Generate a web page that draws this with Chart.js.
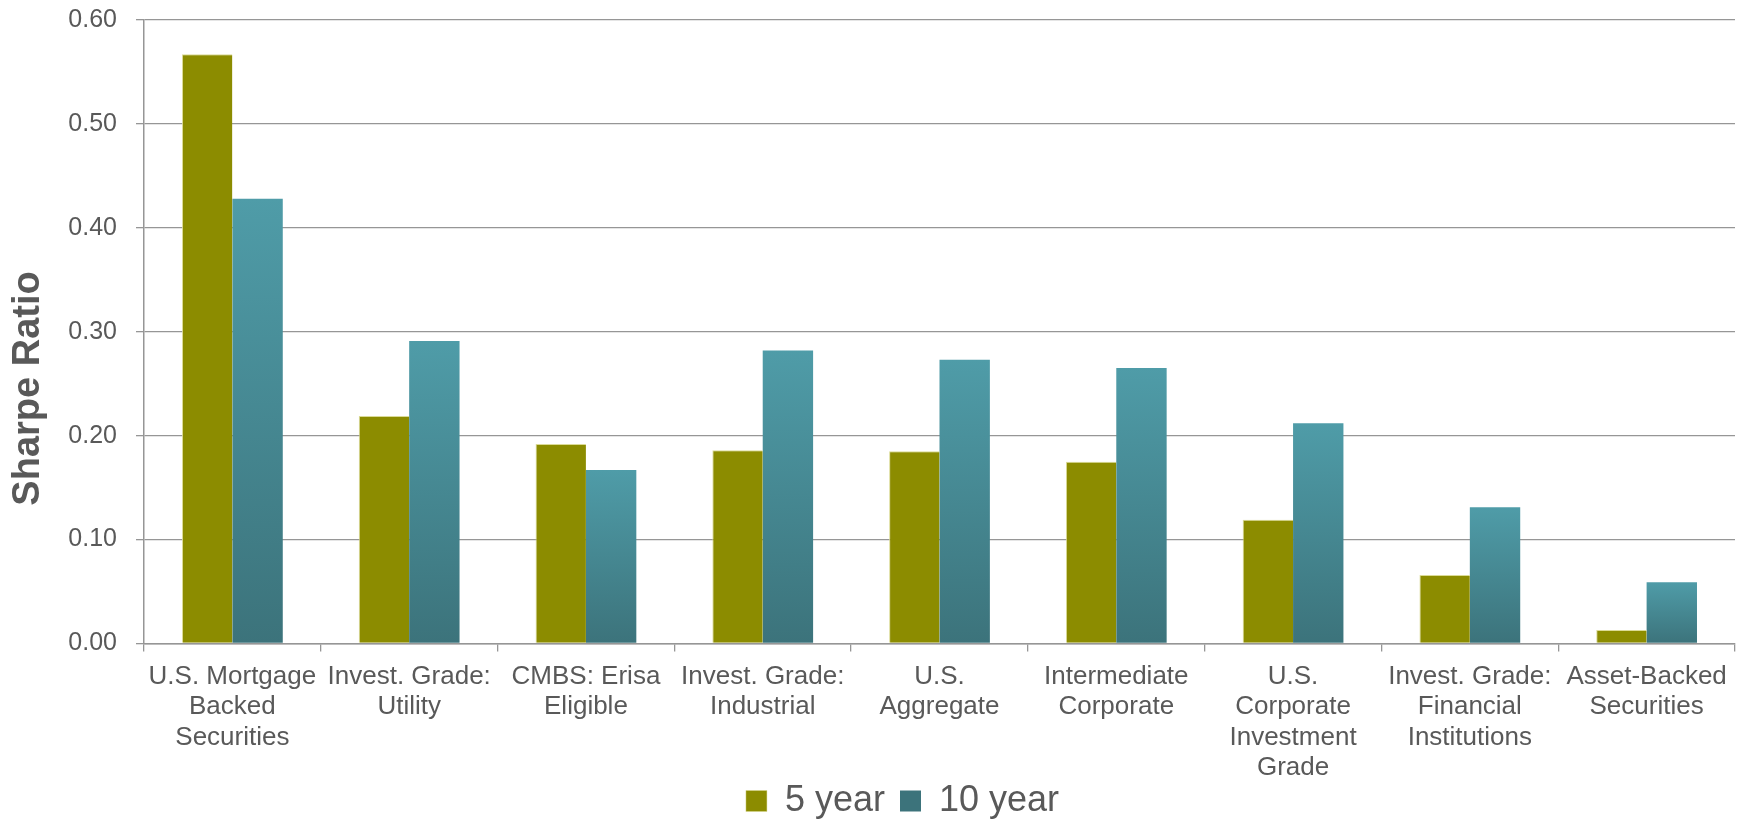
<!DOCTYPE html>
<html lang="en">
<head>
  <meta charset="UTF-8" />
  <title>Sharpe Ratio by Sector</title>
  <script src="https://cdn.jsdelivr.net/npm/chart.js@4"></script>
  <style>
    body { margin: 0; background: #fff; }
    .chart-box { width: 1740px; height: 821px; position: relative; }
  </style>
</head>
<body>
  <div class="chart-box">
    <canvas id="sharpeChart"></canvas>
  </div>

  <script>
    const categories = [
      ['U.S. Mortgage', 'Backed', 'Securities'],
      ['Invest. Grade:', 'Utility'],
      ['CMBS: Erisa', 'Eligible'],
      ['Invest. Grade:', 'Industrial'],
      ['U.S.', 'Aggregate'],
      ['Intermediate', 'Corporate'],
      ['U.S.', 'Corporate', 'Investment', 'Grade'],
      ['Invest. Grade:', 'Financial', 'Institutions'],
      ['Asset-Backed', 'Securities']
    ];
    const fiveYear = [0.567, 0.219, 0.192, 0.186, 0.185, 0.175, 0.119, 0.066, 0.013];
    const tenYear = [0.428, 0.291, 0.167, 0.282, 0.273, 0.265, 0.212, 0.131, 0.059];
    const yTicks = [0, 0.1, 0.2, 0.3, 0.4, 0.5, 0.6];
    const yTitle = 'Sharpe Ratio';

    const textColor = '#595959';
    const gridColor = '#969696';
    const fontFamily = "'Liberation Sans', Arial, sans-serif";

    // teal bars fade from light at the top to dark at the baseline
    function tealFill(ctx) {
      const chart = ctx.chart;
      if (ctx.type !== 'data' || !chart.chartArea) return '#468a94';
      const y = chart.scales.y;
      const top = y.getPixelForValue(ctx.raw);
      const base = y.getPixelForValue(0);
      const g = chart.ctx.createLinearGradient(0, top, 0, base);
      g.addColorStop(0, '#4f9ca8');
      g.addColorStop(1, '#3c737b');
      return g;
    }

    // rotated axis title, sitting a little below the middle of the plot
    const axisTitle = {
      id: 'axisTitle',
      afterDraw(chart) {
        const { ctx, chartArea } = chart;
        const cy = chartArea.top + (chartArea.bottom - chartArea.top) * 0.591;
        ctx.save();
        ctx.translate(29, cy);
        ctx.rotate(-Math.PI / 2);
        ctx.font = "bold 38px " + fontFamily;
        ctx.fillStyle = textColor;
        ctx.textAlign = 'center';
        ctx.textBaseline = 'middle';
        ctx.fillText(yTitle, 0, 0);
        ctx.restore();
      }
    };

    // the legend overlaps the bottom of the tall category labels a bit
    // and sits right of centre, so widen/move its box after layout
    const legendNudge = {
      id: 'legendNudge',
      afterLayout(chart) {
        const lg = chart.legend;
        if (!lg) return;
        lg.top -= 15.5;
        lg.bottom = chart.height;
        lg.height = lg.bottom - lg.top;
        lg.left += 35;
        lg.right += 35;
      }
    };

    new Chart(document.getElementById('sharpeChart').getContext('2d'), {
      type: 'bar',
      data: {
        labels: categories,
        datasets: [{
          label: '5 year',
          data: fiveYear,
          backgroundColor: '#8c8c00',
          borderColor: 'rgba(215,215,140,0.9)',
          borderWidth: { top: 1, left: 1, right: 0, bottom: 0 },
          categoryPercentage: 0.57,
          barPercentage: 1
        }, {
          label: '10 year',
          data: tenYear,
          backgroundColor: tealFill,
          categoryPercentage: 0.57,
          barPercentage: 1
        }]
      },
      options: {
        responsive: true,
        maintainAspectRatio: false,
        animation: false,
        layout: { padding: { top: 20, right: 5, left: 0, bottom: 0 } },
        scales: {
          x: {
            afterFit: (scale) => { scale.height = 140; },
            grid: {
              offset: true,
              drawOnChartArea: false,
              drawTicks: true,
              tickLength: 8,
              color: gridColor,
              lineWidth: 1.3
            },
            border: { color: gridColor, width: 1.5 },
            ticks: {
              autoSkip: false,
              maxRotation: 0,
              padding: 10,
              color: textColor,
              font: { family: fontFamily, size: 26, lineHeight: 1.17 }
            }
          },
          y: {
            min: 0,
            max: 0.6,
            afterBuildTicks: (scale) => {
              scale.ticks = yTicks.map(v => ({ value: v }));
            },
            afterFit: (scale) => {
              scale.width = 144;
              scale.paddingTop = 0;
              scale.paddingBottom = 0;
            },
            grid: {
              color: gridColor,
              lineWidth: 1.3,
              tickLength: 8
            },
            border: { color: gridColor, width: 1.5 },
            ticks: {
              padding: 19,
              color: textColor,
              font: { family: fontFamily, size: 25 },
              callback: (v) => v.toFixed(2)
            }
          }
        },
        plugins: {
          legend: {
            position: 'bottom',
            maxHeight: 37.5,
            labels: {
              boxWidth: 21,
              boxHeight: 21,
              padding: 15,
              color: textColor,
              font: { family: fontFamily, size: 36 }
            }
          },
          tooltip: { enabled: false }
        }
      },
      plugins: [axisTitle, legendNudge]
    });
  </script>
</body>
</html>
